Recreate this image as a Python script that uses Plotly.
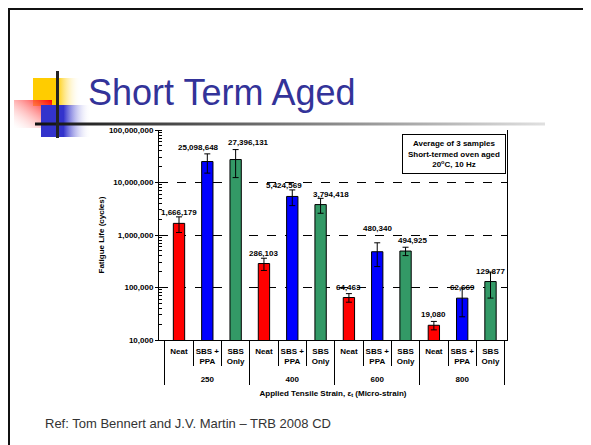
import base64
import math
import plotly.graph_objects as go

# ---------------- data ----------------
strains = ["250", "400", "600", "800"]
series = ["Neat", "SBS + PPA", "SBS Only"]
series_ticklabels = ["Neat", "SBS +<br>PPA", "SBS<br>Only"]
neat = [1666179, 286103, 64463, 19080]
sbs_ppa = [25098648, 5424569, 480340, 62669]
sbs_only = [27396131, 3794418, 494925, 129877]
neat_err = [550000, 75000, 12000, 3500]
sbs_ppa_err = [10000000, 1800000, 230000, 35000]
sbs_only_err = [15000000, 1200000, 90000, 67000]
y_tickvals = [1e4, 1e5, 1e6, 1e7, 1e8]
y_ticktext = ["10,000", "100,000", "1,000,000", "10,000,000", "100,000,000"]

# ---------------- styling ----------------
colors = {"Neat": "#FF0000", "SBS + PPA": "#0000FF", "SBS Only": "#339966"}
FONT = "Liberation Sans, Arial, sans-serif"
OFF = 8                      # page body margin of the browser
SW, SH = 591, 445            # screenshot size
W, H = SW - OFF, SH - OFF    # figure size
PL, PR, PT, PB = 159, 507, 130, 340  # plot area in screenshot pixels


def px2x(px):
    return (px - PL) / (PR - PL)


def py2y(py):
    return (PB - py) / (PB - PT)


values_by_series = [neat, sbs_ppa, sbs_only]
errors_by_series = [neat_err, sbs_ppa_err, sbs_only_err]

xg, xs, yv, ye, cols = [], [], [], [], []
for gi, g in enumerate(strains):
    for si, s in enumerate(series):
        xg.append("<br>" + g)
        xs.append(series_ticklabels[si])
        yv.append(values_by_series[si][gi])
        ye.append(errors_by_series[si][gi])
        cols.append(colors[s])

fig = go.Figure()
fig.add_trace(go.Bar(
    x=[xg, xs], y=yv, width=0.4,
    marker=dict(color=cols, line=dict(color="black", width=1)),
    error_y=dict(type="data", array=ye, visible=True, color="black",
                 thickness=1, width=3),
    showlegend=False, hoverinfo="skip",
))

# data labels (nudges in pixels are purely presentational)
label_dx = [0, -9, 13, 0, -8, 10, 0, 0, 7, 0, 0, 0]
label_dy = [0, 4, 7, 0, 0, 0, 0, 13, 0, 0, 0, 0]
annotations = []
for i, v in enumerate(yv):
    annotations.append(dict(
        x=i, y=math.log10(v), xref="x", yref="y",
        text=f"{v:,}", showarrow=False, xanchor="center", yanchor="bottom",
        xshift=label_dx[i], yshift=4 + label_dy[i],
        font=dict(family=FONT, size=8, color="black", weight="bold"),
    ))

# note box
annotations.append(dict(
    x=px2x(454), y=py2y(154), xref="paper", yref="paper",
    xanchor="center", yanchor="middle",
    text="Average of 3 samples<br>Short-termed oven aged<br>20<sup>o</sup>C, 10 Hz",
    showarrow=False, align="center", bgcolor="white",
    bordercolor="black", borderwidth=1, borderpad=2, width=98, height=34,
    font=dict(family=FONT, size=8, color="black", weight="bold"),
))
# slide title
annotations.append(dict(
    x=px2x(86), y=py2y(92), xref="paper", yref="paper",
    xanchor="left", yanchor="middle", showarrow=False,
    text="Short Term Aged",
    font=dict(family=FONT, size=36, color="#333399"),
))
# reference
annotations.append(dict(
    x=px2x(43), y=py2y(423), xref="paper", yref="paper",
    xanchor="left", yanchor="middle", showarrow=False,
    text="Ref: Tom Bennert and J.V. Martin \u2013 TRB 2008 CD",
    font=dict(family=FONT, size=13, color="#333333"),
))

# decorative slide graphics as an SVG (drawn in screenshot coordinates)
svg = f"""<svg xmlns='http://www.w3.org/2000/svg' width='{W}' height='{H}' viewBox='0 0 {W} {H}'>
<defs>
<linearGradient id='gy' x1='0' y1='0' x2='1' y2='0'>
<stop offset='0' stop-color='#FFCC00'/><stop offset='0.5' stop-color='#FFCC00'/><stop offset='1' stop-color='#FFFFFF' stop-opacity='0'/></linearGradient>
<linearGradient id='gr' x1='1' y1='0' x2='0' y2='1'>
<stop offset='0' stop-color='#FF0000'/><stop offset='1' stop-color='#FFFFFF' stop-opacity='0.2'/></linearGradient>
<linearGradient id='gb' x1='0' y1='0' x2='1' y2='0'>
<stop offset='0' stop-color='#3333CC'/><stop offset='0.45' stop-color='#3333CC'/><stop offset='1' stop-color='#FFFFFF' stop-opacity='0'/></linearGradient>
<linearGradient id='gl' x1='0' y1='0' x2='1' y2='0'>
<stop offset='0' stop-color='#111111'/><stop offset='1' stop-color='#E0E0E0'/></linearGradient>
</defs>
<g transform='translate({-OFF},{-OFF})'>
<rect x='7' y='7' width='{SW}' height='3' fill='#111111'/>
<rect x='7' y='7' width='3' height='{SH}' fill='#111111'/>
<rect x='33' y='78' width='48' height='28' fill='url(#gy)'/>
<rect x='14' y='100' width='38' height='28' fill='url(#gr)'/>
<rect x='41' y='105' width='50' height='32' fill='url(#gb)'/>
<rect x='35' y='122.5' width='510' height='3' fill='url(#gl)'/>
<rect x='56' y='71' width='3' height='67' fill='#222222'/>
</g>
</svg>"""
src = "data:image/svg+xml;base64," + base64.b64encode(svg.encode()).decode()

fig.update_layout(
    width=W, height=H,
    margin=dict(l=PL - OFF, r=SW - PR, t=PT - OFF, b=SH - PB, pad=0, autoexpand=False),
    paper_bgcolor="white", plot_bgcolor="rgba(0,0,0,0)",
    barmode="overlay",
    annotations=annotations,
    images=[dict(source=src, xref="paper", yref="paper",
                 x=px2x(OFF), y=py2y(OFF), sizex=W / (PR - PL), sizey=H / (PB - PT),
                 xanchor="left", yanchor="top", sizing="stretch", layer="below")],
    font=dict(family=FONT, size=8, color="black"),
)

fig.update_xaxes(
    type="multicategory", showline=True, linecolor="black", linewidth=1,
    ticks="outside", ticklen=25, tickcolor="black", tickwidth=1, tickangle=0,
    ticklabelstandoff=3,
    showdividers=True, dividercolor="black", dividerwidth=1,
    tickfont=dict(family=FONT, size=8, color="black", weight="bold"),
    showgrid=False, zeroline=False, automargin=False,
    title=dict(text="Applied Tensile Strain, \u03b5<sub>t</sub> (Micro-strain)",
               font=dict(family=FONT, size=8, color="black", weight="bold"),
               standoff=6),
)
fig.update_yaxes(
    type="log", range=[4, 8], tickvals=y_tickvals, ticktext=y_ticktext,
    showline=True, mirror=True, linecolor="black", linewidth=1,
    ticks="outside", ticklen=3, tickcolor="black",
    minor=dict(ticks="inside", ticklen=3, tickcolor="black", dtick="D1", showgrid=False),
    showgrid=True, gridcolor="black", gridwidth=1, griddash="dash",
    tickfont=dict(family=FONT, size=8, color="black", weight="bold"),
    automargin=False,
    title=dict(text="Fatigue Life (cycles)",
               font=dict(family=FONT, size=8, color="black", weight="bold"),
               standoff=3),
    zeroline=False,
)

fig.write_html("out.html")
